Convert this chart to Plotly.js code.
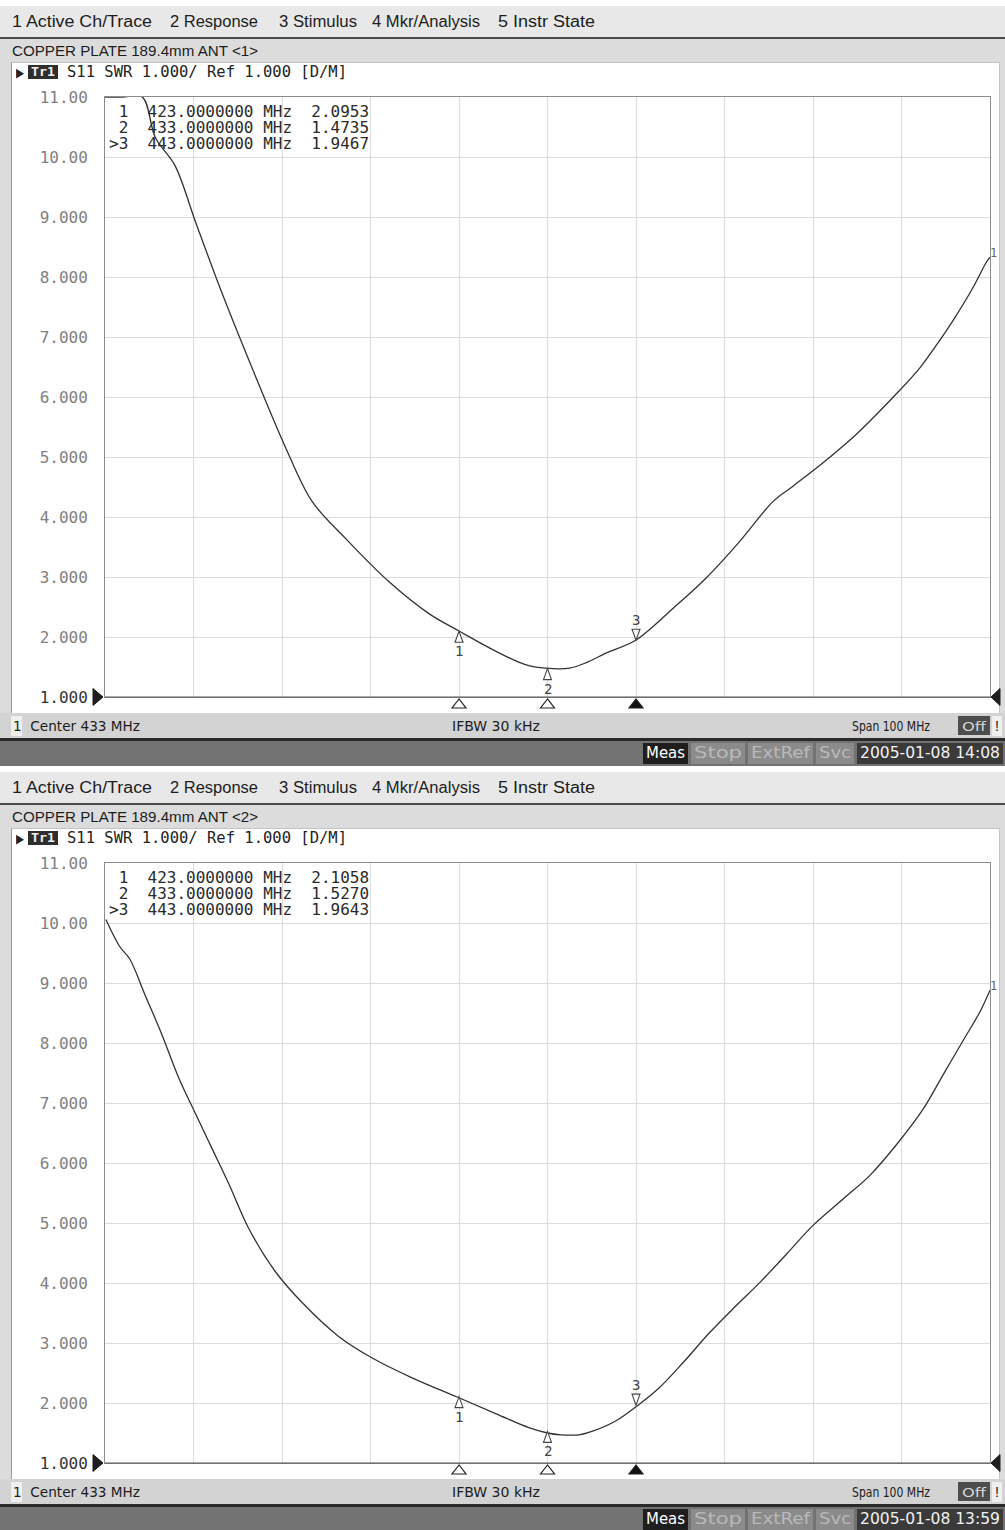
<!DOCTYPE html>
<html><head><meta charset="utf-8">
<script src="https://cdn.plot.ly/plotly-3.0.1.min.js"></script>
<style>
html,body{margin:0;padding:0;width:1005px;height:1530px;overflow:hidden;background:#fff;}
#page{position:absolute;left:0;top:0;width:1005px;height:1530px;}
.blk{position:absolute;box-sizing:border-box;}
.txt{position:absolute;white-space:pre;transform-origin:0 50%;line-height:1;}
#plot{position:absolute;left:0;top:0;width:1005px;height:1530px;}
</style></head><body><div id="page"></div><div id="plot"></div>
<script>
// ---------------- data ----------------
const freqTop = [383, 385, 387.2, 388.7, 390.9, 393.2, 396.2, 399.6, 403.4, 406.4, 410.2, 415.1, 419.6, 423.0, 427.2, 430.5, 432.8, 435.5, 437.5, 439.6, 443.0, 447.2, 450.9, 454.7, 458.5, 460.7, 464.1, 467.9, 472.4, 475.1, 477.3, 478.8, 481.1, 482.6, 483];
const swrTop  = [11, 11, 11, 10.32, 9.86, 8.93, 7.74, 6.49, 5.16, 4.26, 3.64, 2.92, 2.39, 2.10, 1.76, 1.54, 1.48, 1.48, 1.58, 1.73, 1.95, 2.48, 2.98, 3.59, 4.26, 4.51, 4.90, 5.38, 6.05, 6.49, 6.94, 7.27, 7.83, 8.25, 8.33];
const freqBottom = [383.1, 384.7, 385.8, 387.5, 389.4, 391.3, 393.2, 395.1, 397.0, 399.2, 402.2, 405.3, 409.4, 413.2, 417.7, 422.8, 427.2, 430.9, 433.0, 434.5, 436.6, 438.1, 440.7, 443.2, 445.6, 448.3, 451.3, 454.3, 457.0, 460.0, 463.0, 466.4, 469.4, 472.4, 475.5, 477.7, 480.0, 481.9, 483.0];
const swrBottom  = [10.06, 9.60, 9.40, 8.81, 8.15, 7.43, 6.83, 6.24, 5.65, 4.92, 4.20, 3.67, 3.11, 2.75, 2.42, 2.10, 1.82, 1.59, 1.50, 1.47, 1.47, 1.53, 1.70, 1.96, 2.25, 2.67, 3.17, 3.62, 4.01, 4.48, 4.96, 5.40, 5.79, 6.30, 6.91, 7.47, 8.05, 8.53, 8.88];
const markerFreq = [423, 433, 443];
const markerSwrTop = [2.0953, 1.4735, 1.9467];
const markerSwrBottom = [2.1058, 1.5270, 1.9643];
const yTickVals = [1, 2, 3, 4, 5, 6, 7, 8, 9, 10, 11];
const yTickText = ['1.000', '2.000', '3.000', '4.000', '5.000', '6.000', '7.000', '8.000', '9.000', '10.00', '11.00'];
const menuItems = ['1 Active Ch/Trace', '2 Response', '3 Stimulus', '4 Mkr/Analysis', '5 Instr State'];
const screenTitles = ['COPPER PLATE 189.4mm ANT <1>', 'COPPER PLATE 189.4mm ANT <2>'];
const traceHeader = 'S11 SWR 1.000/ Ref 1.000 [D/M]';
const stimulusTexts = ['1  Center 433 MHz', 'IFBW 30 kHz', 'Span 100 MHz'];
const statusItems = ['Meas', 'Stop', 'ExtRef', 'Svc'];
const timestamps = ['2005-01-08 14:08', '2005-01-08 13:59'];

// ---------------- instrument chrome (HTML) ----------------
const page = document.getElementById('page');
function box(x0, y0, x1, y1, bg, extra) {
  const d = document.createElement('div');
  d.className = 'blk';
  Object.assign(d.style, {left: x0 + 'px', top: y0 + 'px', width: (x1 - x0) + 'px', height: (y1 - y0) + 'px', background: bg}, extra || {});
  page.appendChild(d);
  return d;
}
function label(str, x0, x1, cy, opt) {
  const s = document.createElement('span');
  s.className = 'txt';
  s.textContent = str;
  s.style.fontFamily = opt.font;
  s.style.fontSize = opt.size + 'px';
  s.style.color = opt.color;
  if (opt.weight) s.style.fontWeight = opt.weight;
  s.style.left = x0 + 'px';
  s.style.top = (cy - opt.size / 2) + 'px';
  s.style.height = opt.size + 'px';
  page.appendChild(s);
  const w = s.getBoundingClientRect().width;
  if (x1 && w > 0) s.style.transform = 'scaleX(' + ((x1 - x0) / w) + ')';
  return s;
}
const SANS = "'Liberation Sans', Arial, sans-serif";
const COND = "'DejaVu Sans Condensed', 'Liberation Sans', sans-serif";
const MONO = "'DejaVu Sans Mono', 'Liberation Mono', monospace";
const menuX = [[12, 152], [170, 258], [279, 357], [372, 480], [498, 595]];
const statusX = [[643, 688], [691, 745], [748, 813], [816, 854]];

function buildScreen(o, idx) {
  // menu bar
  box(0, o + 6, 1005, o + 37, '#e8e8e8');
  box(0, o + 37, 1005, o + 39, '#4a4a4a');
  menuItems.forEach((t, i) => label(t, menuX[i][0], menuX[i][1], o + 22, {font: SANS, size: 16, color: '#1c1c1c'}));
  // title bar
  box(0, o + 39, 1005, o + 62, '#dcdcdc');
  label(screenTitles[idx], 12, 258, o + 51, {font: SANS, size: 14, color: '#1c1c1c'});
  // white chart panel
  box(0, o + 62, 11, o + 713, '#dcdcdc');
  box(1000, o + 62, 1005, o + 713, '#dcdcdc');
  box(11, o + 62, 1000, o + 713, '#ffffff', {borderLeft: '1px solid #9a9a9a', borderTop: '1px solid #c4c4c4', borderRight: '1px solid #c4c4c4'});
  // trace header
  label('\u25B6', 16, 24, o + 72, {font: "'DejaVu Sans', sans-serif", size: 13, color: '#222'});
  box(28, o + 65, 58, o + 79, '#2e2e2e');
  label('Tr1', 31, 55, o + 72, {font: MONO, size: 12, color: '#f0f0f0', weight: 'bold'});
  label(traceHeader, 67, 347, o + 72, {font: MONO, size: 15, color: '#222'});
  // stimulus bar
  box(0, o + 713, 1005, o + 738, '#d3d3d3');
  box(11, o + 716, 22, o + 736, '#efefef');
  label(stimulusTexts[0], 13, 140, o + 726, {font: COND, size: 14, color: '#1c1c1c'});
  label(stimulusTexts[1], 452, 540, o + 726, {font: COND, size: 14, color: '#1c1c1c'});
  label(stimulusTexts[2], 852, 930, o + 726, {font: COND, size: 14, color: '#1c1c1c'});
  box(958, o + 716, 990, o + 735, '#4d4d4d');
  label('Off', 962, 986, o + 726, {font: COND, size: 13, color: '#d8d8d8'});
  box(992, o + 716, 1002, o + 736, '#efefef');
  label('!', 995, 999, o + 726, {font: SANS, size: 14, color: '#1c1c1c'});
  // status bar
  box(0, o + 738, 1005, o + 741, '#2a2a2a');
  box(0, o + 741, 1005, o + 766, '#727272');
  statusItems.forEach((t, i) => {
    const dark = i === 0;
    box(statusX[i][0], o + 743, statusX[i][1], o + 764, dark ? '#1e1e1e' : '#8b8b8b');
    label(t, statusX[i][0] + 3, statusX[i][1] - 3, o + 753, {font: COND, size: 16, color: dark ? '#ffffff' : '#b9b9b9'});
  });
  box(857, o + 743, 1003, o + 764, '#3a3a3a');
  label(timestamps[idx], 860, 1000, o + 753, {font: COND, size: 16, color: '#f2f2f2'});
}
buildScreen(0, 0);
buildScreen(766, 1);

// ---------------- Plotly charts ----------------
const H = 1530, W = 1005;
const xDom = [105 / W, 990 / W];
const yDomTop = [1 - 697 / H, 1 - 97 / H];
const yDomBot = [1 - 1463 / H, 1 - 863 / H];

const tickTextStyled = yTickText.map((t, i) => i === 0 ? '<span style="color:#333">' + t + '</span>' : t);

function xAxis(anchor) {
  return {domain: xDom, anchor: anchor, range: [383, 483], tick0: 383, dtick: 10, showticklabels: false, ticks: '',
    showgrid: true, gridcolor: '#dcdcdc', gridwidth: 1, zeroline: false, showline: true, mirror: true,
    linecolor: '#8c8c8c', linewidth: 1, fixedrange: true};
}
function yAxis(dom, anchor) {
  return {domain: dom, anchor: anchor, range: [1, 11], tickmode: 'array', tickvals: yTickVals, ticktext: tickTextStyled,
    ticks: '', ticklabelstandoff: 13, tickfont: {family: MONO, size: 16, color: '#808080'},
    showgrid: true, gridcolor: '#dcdcdc', gridwidth: 1, zeroline: false, showline: true, mirror: true,
    linecolor: '#8c8c8c', linewidth: 1, fixedrange: true};
}

const traceLine = {color: '#333333', width: 1.3, shape: 'spline', smoothing: 1.0};
const traces = [
  {x: freqTop, y: swrTop, xaxis: 'x', yaxis: 'y', mode: 'lines', line: traceLine, hoverinfo: 'skip', showlegend: false},
  {x: freqBottom, y: swrBottom, xaxis: 'x2', yaxis: 'y2', mode: 'lines', line: traceLine, hoverinfo: 'skip', showlegend: false}
];

const shapes = [];
const annotations = [];
function decorate(xa, ya, mvals, freqs, swrs) {
  const xd = xa + ' domain', yd = ya + ' domain';
  // bottom frame line (darker)
  shapes.push({type: 'line', xref: xd, yref: yd, x0: 0, x1: 1, y0: 0, y1: 0, line: {color: '#555', width: 1.2}, layer: 'above'});
  // reference level arrows
  shapes.push({type: 'path', xref: xd, yref: yd, xsizemode: 'pixel', ysizemode: 'pixel', xanchor: 0, yanchor: 0,
    path: 'M-2,0 L-12,8.5 L-12,-8.5 Z', fillcolor: '#1e1e1e', line: {color: '#1e1e1e', width: 1}});
  shapes.push({type: 'path', xref: xd, yref: yd, xsizemode: 'pixel', ysizemode: 'pixel', xanchor: 1, yanchor: 0,
    path: 'M1,0 L10,8.5 L10,-8.5 Z', fillcolor: '#1e1e1e', line: {color: '#1e1e1e', width: 1}});
  // marker table
  mvals.forEach((v, i) => {
    const row = (i === 2 ? '>' : ' ') + (i + 1) + '  ' + markerFreq[i].toFixed(7) + ' MHz  ' + v.toFixed(4);
    annotations.push({xref: xd, yref: yd, x: 0, y: 1, xanchor: 'left', yanchor: 'middle', xshift: 2, yshift: -14 - 16 * i,
      text: row.replace(/ /g, '\u00a0'), showarrow: false, font: {family: MONO, size: 16, color: '#2a2a2a'}});
  });
  // markers on trace + stimulus-axis markers
  markerFreq.forEach((f, i) => {
    const v = mvals[i];
    const active = i === 2;
    shapes.push({type: 'path', xref: xa, yref: ya, xsizemode: 'pixel', ysizemode: 'pixel', xanchor: f, yanchor: v,
      path: active ? 'M0,0 L-4,11 L4,11 Z' : 'M0,0 L-4,-11 L4,-11 Z', fillcolor: '#ffffff', line: {color: '#444', width: 1.1}});
    annotations.push({xref: xa, yref: ya, x: f, y: v, xanchor: 'center', yanchor: active ? 'bottom' : 'top',
      yshift: active ? 10 : -10, text: String(i + 1), showarrow: false, font: {family: MONO, size: 14, color: '#444'}});
    shapes.push({type: 'path', xref: xa, yref: yd, xsizemode: 'pixel', ysizemode: 'pixel', xanchor: f, yanchor: 0,
      path: 'M0,-2 L-7,-11 L7,-11 Z', fillcolor: active ? '#111' : '#ffffff', line: {color: '#222', width: 1.2}});
  });
  // trace number at end of trace
  annotations.push({xref: xa, yref: ya, x: freqs[freqs.length - 1], y: swrs[swrs.length - 1], xanchor: 'left', yanchor: 'middle',
    xshift: -2, yshift: 4, text: '1', showarrow: false, font: {family: MONO, size: 12, color: '#666'}});
}
decorate('x', 'y', markerSwrTop, freqTop, swrTop);
decorate('x2', 'y2', markerSwrBottom, freqBottom, swrBottom);

const layout = {
  width: W, height: H, margin: {l: 0, r: 0, t: 0, b: 0, pad: 0},
  paper_bgcolor: 'rgba(0,0,0,0)', plot_bgcolor: '#ffffff',
  xaxis: xAxis('y'), yaxis: yAxis(yDomTop, 'x'),
  xaxis2: xAxis('y2'), yaxis2: yAxis(yDomBot, 'x2'),
  shapes: shapes, annotations: annotations, showlegend: false
};
Plotly.newPlot('plot', traces, layout, {staticPlot: true, displayModeBar: false});
</script>
</body></html>
